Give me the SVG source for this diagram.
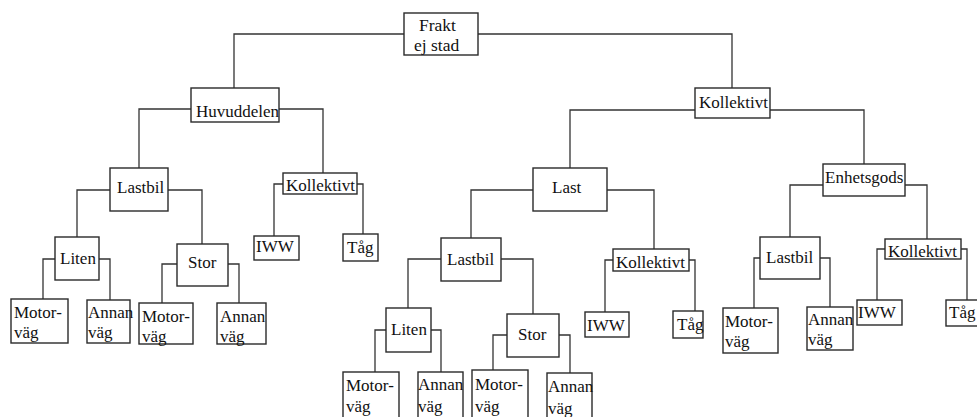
<svg xmlns="http://www.w3.org/2000/svg" width="977" height="417" viewBox="0 0 977 417">
<style>
.b{fill:#fff;stroke:#2a2a2a;stroke-width:1.4}
.c{fill:none;stroke:#333;stroke-width:1.3}
text{font-family:"Liberation Serif","Times New Roman",serif;font-size:17px;fill:#111}
</style>
<rect width="977" height="417" fill="#fff"/>
<g id="connectors">
<path class="c" d="M404,34H234V88M478,34H732V88M191,109H139V168M279,109H323V173M110,190H77V237M168,190H202V244M55,259H43V299M99,259H110V300M177,264H162V303M228,264H239V303M283,184H274V236M357,184H363V234M695,110H570V168M770,110H864V164M533,190H471V238M607,190H654V249M441,259H408V308M501,259H533V314M386,330H375V372M431,330H441V372M507,335H493V370M559,335H570V373M613,260H605V312M689,260H695V311M823,185H790V237M905,185H927V239M760,258H754V308M820,258H830V307M885,249H877V300M961,249H967V300"/>
</g>
<g id="frakt"><rect class="b" x="404" y="13" width="74" height="42"/><text x="419" y="31" style="font-size:17.5px">Frakt</text><text x="414" y="51" style="font-size:17.5px">ej stad</text></g>
<g id="huvuddelen"><rect class="b" x="191" y="88" width="88" height="34"/><text x="196" y="117">Huvuddelen</text></g>
<g id="kollektivt-top"><rect class="b" x="695" y="88" width="75" height="30"/><text x="699" y="108">Kollektivt</text></g>
<g id="lastbil-l"><rect class="b" x="110" y="168" width="58" height="43"/><text x="117" y="193">Lastbil</text></g>
<g id="kollektivt-l"><rect class="b" x="283" y="173" width="74" height="21"/><text x="286" y="191">Kollektivt</text></g>
<g id="liten-l"><rect class="b" x="55" y="237" width="44" height="43"/><text x="60" y="264">Liten</text></g>
<g id="stor-l"><rect class="b" x="177" y="244" width="51" height="42"/><text x="188" y="268">Stor</text></g>
<g id="iww-l"><rect class="b" x="254" y="236" width="45" height="24"/><text x="256" y="252">IWW</text></g>
<g id="tag-l"><rect class="b" x="343" y="234" width="35" height="27"/><text x="347" y="253">Tåg</text></g>
<g id="motor-l1"><rect class="b" x="11" y="299" width="57" height="44"/><text x="14" y="318">Motor-</text><text x="14" y="338">väg</text></g>
<g id="annan-l1"><rect class="b" x="87" y="300" width="43" height="43"/><text x="88" y="318">Annan</text><text x="88" y="338">väg</text></g>
<g id="motor-l2"><rect class="b" x="139" y="303" width="54" height="41"/><text x="142" y="322">Motor-</text><text x="142" y="342">väg</text></g>
<g id="annan-l2"><rect class="b" x="217" y="303" width="49" height="41"/><text x="220" y="322">Annan</text><text x="220" y="342">väg</text></g>
<g id="last"><rect class="b" x="533" y="168" width="74" height="43"/><text x="552" y="193">Last</text></g>
<g id="enhetsgods"><rect class="b" x="823" y="164" width="82" height="32"/><text x="825" y="183">Enhetsgods</text></g>
<g id="lastbil-m"><rect class="b" x="441" y="238" width="60" height="43"/><text x="447" y="265">Lastbil</text></g>
<g id="kollektivt-m"><rect class="b" x="613" y="249" width="76" height="22"/><text x="616" y="268">Kollektivt</text></g>
<g id="iww-m"><rect class="b" x="585" y="312" width="44" height="25"/><text x="587" y="331">IWW</text></g>
<g id="tag-m"><rect class="b" x="673" y="311" width="30" height="27"/><text x="677" y="330">Tåg</text></g>
<g id="liten-m"><rect class="b" x="386" y="308" width="45" height="44"/><text x="391" y="335">Liten</text></g>
<g id="stor-m"><rect class="b" x="507" y="314" width="52" height="43"/><text x="518" y="340">Stor</text></g>
<g id="motor-m1"><rect class="b" x="343" y="372" width="56" height="46"/><text x="346" y="391">Motor-</text><text x="346" y="412">väg</text></g>
<g id="annan-m1"><rect class="b" x="418" y="372" width="45" height="46"/><text x="418" y="390">Annan</text><text x="418" y="412">väg</text></g>
<g id="motor-m2"><rect class="b" x="472" y="370" width="56" height="48"/><text x="475" y="390">Motor-</text><text x="475" y="412">väg</text></g>
<g id="annan-m2"><rect class="b" x="547" y="373" width="45" height="45"/><text x="548" y="392">Annan</text><text x="548" y="414">väg</text></g>
<g id="lastbil-r"><rect class="b" x="760" y="237" width="60" height="42"/><text x="766" y="263">Lastbil</text></g>
<g id="kollektivt-r"><rect class="b" x="885" y="239" width="76" height="20"/><text x="888" y="257">Kollektivt</text></g>
<g id="motor-r"><rect class="b" x="723" y="308" width="55" height="45"/><text x="725" y="327">Motor-</text><text x="725" y="347">väg</text></g>
<g id="annan-r"><rect class="b" x="807" y="307" width="46" height="43"/><text x="808" y="325">Annan</text><text x="808" y="345">väg</text></g>
<g id="iww-r"><rect class="b" x="857" y="300" width="45" height="25"/><text x="858" y="318">IWW</text></g>
<g id="tag-r"><rect class="b" x="946" y="300" width="33" height="26"/><text x="949" y="318">Tåg</text></g>
</svg>
